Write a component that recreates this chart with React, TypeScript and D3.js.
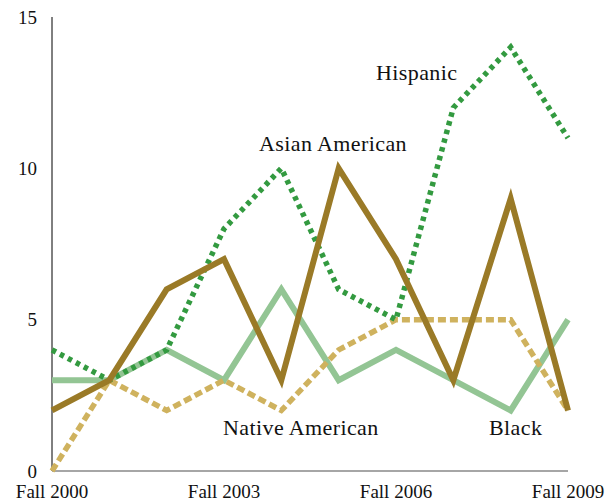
import React from "react";
import * as d3 from "d3";

const years = ["Fall 2000", "Fall 2001", "Fall 2002", "Fall 2003", "Fall 2004", "Fall 2005", "Fall 2006", "Fall 2007", "Fall 2008", "Fall 2009"];
const xTickLabels = ["Fall 2000", "Fall 2003", "Fall 2006", "Fall 2009"];
const yTicks = [0, 5, 10, 15];

const hispanic = [4, 3, 4, 8, 10, 6, 5, 12, 14, 11];
const asianAmerican = [2, 3, 6, 7, 3, 10, 7, 3, 9, 2];
const nativeAmerican = [3, 3, 4, 3, 6, 3, 4, 3, 2, 5];
const black = [0, 3, 2, 3, 2, 4, 5, 5, 5, 2];

const seriesLabels = ["Hispanic", "Asian American", "Native American", "Black"];

const W = 605;
const H = 502;

export default function App() {
  const x = d3.scalePoint<string>().domain(years).range([52, 568]);
  const y = d3.scaleLinear().domain([0, 15]).range([471, 17]);
  const line = d3
    .line<number>()
    .x((_, i) => x(years[i]) as number)
    .y((d) => y(d));

  const font = "'Liberation Serif', 'Times New Roman', serif";

  const series = [
    { values: nativeAmerican, color: "#93c594", width: 6, dash: undefined },
    { values: black, color: "#cfb25e", width: 5.5, dash: "8,4" },
    { values: hispanic, color: "#339a40", width: 5.5, dash: "4.5,4.5" },
    { values: asianAmerican, color: "#9a7a27", width: 6, dash: undefined },
  ];

  const labelPos = [
    { text: seriesLabels[0], x: 376, y: 80 },
    { text: seriesLabels[1], x: 259, y: 151 },
    { text: seriesLabels[2], x: 223, y: 435 },
    { text: seriesLabels[3], x: 489, y: 435 },
  ];

  return (
    <svg
      width={W}
      height={H}
      style={{ position: "absolute", left: 0, top: 0, background: "#fff" }}
      fontFamily={font}
    >
      <line x1={52} x2={52} y1={y(15)} y2={y(0)} stroke="#000" strokeWidth={1} />
      <line x1={52} x2={568} y1={y(0)} y2={y(0)} stroke="#888" strokeWidth={1.5} />
      {yTicks.map((t) => (
        <text key={t} x={37} y={y(t)} dy="0.35em" textAnchor="end" fontSize={19} fill="#111">
          {t}
        </text>
      ))}
      {xTickLabels.map((t) => (
        <text key={t} x={x(t) as number} y={498} textAnchor="middle" fontSize={19} fill="#111">
          {t}
        </text>
      ))}
      {series.map((s, i) => (
        <path
          key={i}
          d={line(s.values) || ""}
          fill="none"
          stroke={s.color}
          strokeWidth={s.width}
          strokeDasharray={s.dash}
          strokeLinejoin="miter"
          strokeMiterlimit={10}
        />
      ))}
      {labelPos.map((l) => (
        <text key={l.text} x={l.x} y={l.y} fontSize={22} letterSpacing={0.4} fill="#111">
          {l.text}
        </text>
      ))}
    </svg>
  );
}
